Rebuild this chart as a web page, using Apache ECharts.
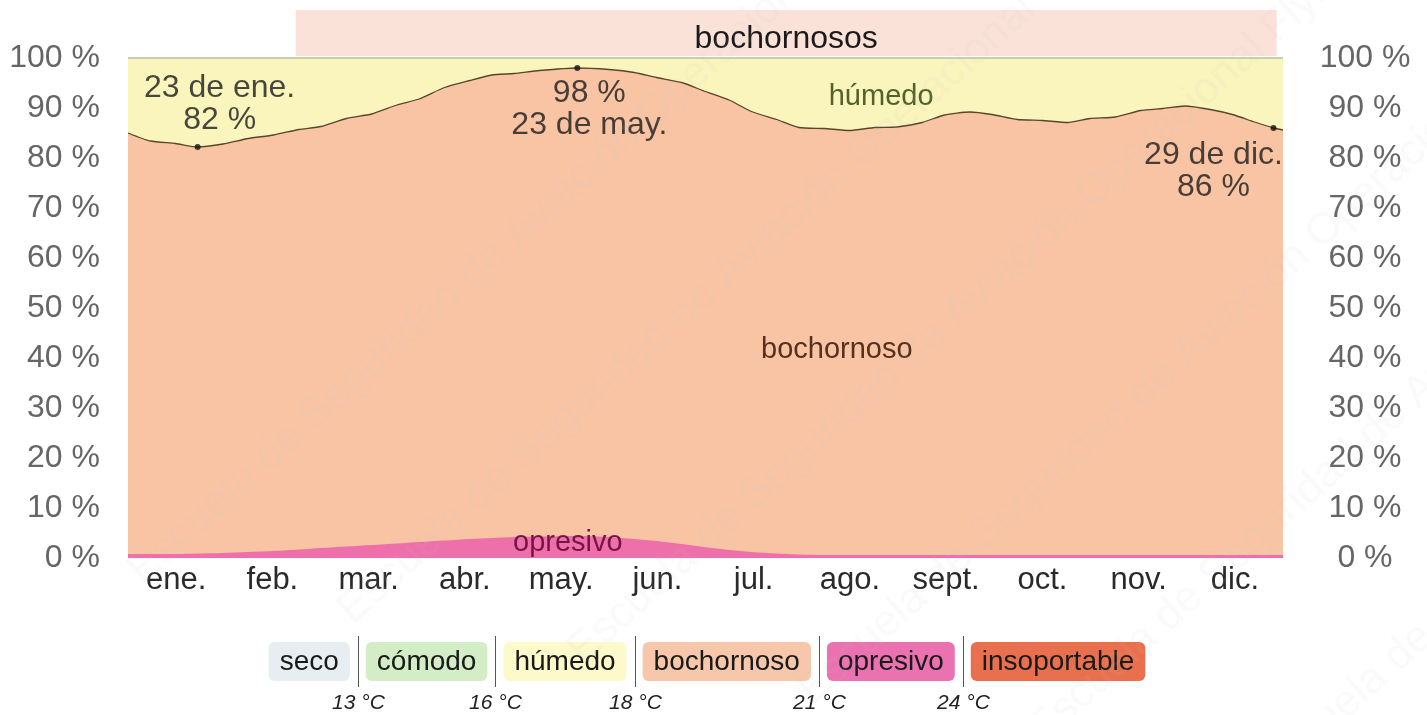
<!DOCTYPE html>
<html>
<head>
<meta charset="utf-8">
<script src="https://cdn.jsdelivr.net/npm/echarts@6/dist/echarts.min.js"></script>
<style>
  html, body { margin: 0; padding: 0; background: #fff; }
  #chart { width: 1427px; height: 715px; }
</style>
</head>
<body>
<div id="chart"></div>
<script>
// dia del año (0 = 1 de ene.)
const days = [0, 7, 15, 22, 30, 38, 46, 54, 61, 69, 77, 85, 92, 100, 108, 115, 122, 130, 142, 152,
  160, 167, 175, 182, 190, 197, 205, 212, 220, 228, 236, 243, 251, 258, 266, 273, 281, 289, 297,
  304, 312, 320, 327, 334, 342, 349, 356, 362, 365];
// % del tiempo bochornoso o peor (linea superior)
const humid = [85, 83.4, 82.9, 82.2, 82.8, 83.9, 84.6, 85.7, 86.3, 87.9, 88.8, 90.6, 91.8, 94.1, 95.5, 96.6, 96.9, 97.5, 98, 97.7,
  97.1, 96.1, 95.1, 93.4, 91.6, 89.3, 87.7, 86.1, 85.9, 85.5, 86.1, 86.2, 87.1, 88.6, 89.2, 88.7, 87.7, 87.5, 87.1,
  87.9, 88.2, 89.5, 89.9, 90.4, 89.7, 88.7, 87.2, 86, 85.6];
// % del tiempo opresivo
const oppressive = [0.8, 0.8, 0.8, 0.9, 1, 1.2, 1.4, 1.7, 2, 2.3, 2.6, 2.9, 3.2, 3.5, 3.8, 4, 4.2, 4.3, 4.4, 4.2,
  3.8, 3.4, 2.8, 2.2, 1.6, 1.2, 0.9, 0.7, 0.6, 0.6, 0.6, 0.6, 0.6, 0.6, 0.6, 0.6, 0.6, 0.6, 0.6,
  0.6, 0.6, 0.6, 0.6, 0.6, 0.6, 0.6, 0.6, 0.6, 0.6];

const months = ['ene.', 'feb.', 'mar.', 'abr.', 'may.', 'jun.', 'jul.', 'ago.', 'sept.', 'oct.', 'nov.', 'dic.'];

// anotaciones: dia, fecha
const noteDays = [22, 142, 362];
const noteDates = ['23 de ene.', '23 de may.', '29 de dic.'];

// banda superior
const bandStart = 53;
const bandEnd = 363;
const bandName = 'bochornosos';

// leyenda
const legendNames = ['seco', 'cómodo', 'húmedo', 'bochornoso', 'opresivo', 'insoportable'];
const legendColors = ['#e6eef1', '#d3edc6', '#fcf9cb', '#f6c7aa', '#ea72b1', '#e9704f'];
const tempLabels = ['13 °C', '16 °C', '18 °C', '21 °C', '24 °C'];

const FONT = '"Liberation Sans", Arial, Helvetica, sans-serif';

const chart = echarts.init(document.getElementById('chart'));

// puntos anotados, valores tomados de humid
const noteLayout = [
  { position: 'top', distance: 8, offset: [22, 0], order: 'dateFirst' },
  { position: 'bottom', distance: 6, offset: [12, 0], order: 'valueFirst' },
  { position: 'bottom', distance: 8, offset: [-60, 0], order: 'dateFirst' }
];
const notes = noteDays.map((d, i) => {
  const v = humid[days.indexOf(d)];
  const pct = Math.round(v) + ' %';
  const lay = noteLayout[i];
  return {
    value: [d, v],
    label: {
      show: true,
      position: lay.position,
      distance: lay.distance,
      offset: lay.offset,
      formatter: lay.order === 'dateFirst' ? noteDates[i] + '\n' + pct : pct + '\n' + noteDates[i]
    }
  };
});

// etiquetas de zona (posiciones en coordenadas del grafico)
const zoneLabels = [
  { name: 'húmedo', coord: [238, 92.2], color: '#53612a' },
  { name: 'bochornoso', coord: [224, 41.6], color: '#57301e' },
  { name: 'opresivo', coord: [139, 3], color: '#781444' }
];

// leyenda: medir el texto para el ancho de cada caja
const ctx = document.createElement('canvas').getContext('2d');
ctx.font = '28px ' + FONT;
const pad = 11, gap = 16, boxTop = 642, boxH = 39;
const widths = legendNames.map(n => ctx.measureText(n).width + pad * 2);
const total = widths.reduce((a, b) => a + b, 0) + gap * (legendNames.length - 1);
let cx = 707 - total / 2;
const legendGraphics = [];
legendNames.forEach((n, i) => {
  legendGraphics.push({
    type: 'rect', silent: true,
    shape: { x: cx, y: boxTop, width: widths[i], height: boxH, r: 6 },
    style: { fill: legendColors[i] }
  });
  legendGraphics.push({
    type: 'text', silent: true,
    style: { text: n, x: cx + widths[i] / 2, y: boxTop + boxH / 2 + 1, align: 'center', verticalAlign: 'middle',
      font: '28px ' + FONT, fill: '#1a1a1a' }
  });
  cx += widths[i];
  if (i < tempLabels.length) {
    const sx = Math.round(cx + gap / 2) + 0.5;
    legendGraphics.push({
      type: 'line', silent: true,
      shape: { x1: sx, y1: 636, x2: sx, y2: 687 },
      style: { stroke: '#555', lineWidth: 1 }
    });
    legendGraphics.push({
      type: 'text', silent: true,
      style: { text: tempLabels[i], x: sx, y: 703, align: 'center', verticalAlign: 'middle',
        font: 'italic 21px ' + FONT, fill: '#222' }
    });
  }
  cx += gap;
});

// marca de agua (muy tenue)
const wmText = 'Escuela de Seguridad de Aviación Operacional Flying - Dirección Operacional - Escuela de Seguridad';
const wmSpots = [[120, 560], [330, 600], [560, 640], [790, 680], [1020, 720], [1250, 760], [1450, 700], [1480, 420]];
const watermark = wmSpots.map(p => ({
  type: 'text', silent: true, z: 100,
  x: p[0], y: p[1], rotation: Math.PI / 4.3,
  style: { text: wmText, x: 0, y: 0, font: '44px ' + FONT, fill: 'rgba(200,200,200,0.09)' }
}));

chart.setOption({
  animation: false,
  backgroundColor: '#fff',
  textStyle: { fontFamily: FONT },
  grid: [
    { left: 128, right: 144, top: 58, bottom: 157 },
    { left: 128, right: 144, top: 10, height: 46 }
  ],
  xAxis: [
    { type: 'value', gridIndex: 0, min: 0, max: 365, show: false },
    {
      type: 'category', gridIndex: 0, data: months, boundaryGap: true, position: 'bottom',
      axisLine: { show: false }, axisTick: { show: false }, splitLine: { show: false },
      axisLabel: { fontSize: 31, color: '#2a2a2a', margin: 7, fontFamily: FONT }
    },
    { type: 'value', gridIndex: 1, min: 0, max: 365, show: false }
  ],
  yAxis: [
    {
      type: 'value', gridIndex: 0, min: 0, max: 100, interval: 10,
      axisLine: { show: false }, axisTick: { show: false },
      axisLabel: { formatter: '{value} %', fontSize: 32, color: '#666', margin: 28, fontFamily: FONT },
      splitLine: { show: true, lineStyle: { color: 'rgba(120,60,30,0.05)', width: 1 } }
    },
    {
      type: 'value', gridIndex: 0, position: 'right', min: 0, max: 100, interval: 10,
      axisLine: { show: false }, axisTick: { show: false }, splitLine: { show: false },
      axisLabel: { formatter: '{value} %', fontSize: 32, color: '#666', margin: 82, align: 'center', fontFamily: FONT }
    },
    { type: 'value', gridIndex: 1, min: 0, max: 1, show: false }
  ],
  series: [
    {
      name: 'húmedo', type: 'line', xAxisIndex: 0, yAxisIndex: 0,
      data: days.map(d => [d, 100]),
      showSymbol: false, lineStyle: { width: 0 },
      areaStyle: { color: '#faf5bd', opacity: 1 },
      markLine: {
        silent: true, symbol: 'none', label: { show: false },
        lineStyle: { color: '#c9cdb1', width: 2, type: 'solid' },
        data: [{ yAxis: 100 }]
      }
    },
    {
      name: 'bochornoso', type: 'line', xAxisIndex: 0, yAxisIndex: 0,
      data: days.map((d, i) => [d, humid[i]]),
      showSymbol: false, smooth: 0.2,
      lineStyle: { color: '#574628', width: 1.3 },
      areaStyle: { color: '#f8c4a4', opacity: 1 },
      markPoint: {
        silent: true, symbol: 'circle', symbolSize: 1,
        itemStyle: { color: 'rgba(0,0,0,0)' },
        data: zoneLabels.map(z => ({
          coord: z.coord, name: z.name,
          label: { show: true, position: 'inside', formatter: z.name, fontSize: 29, color: z.color, fontFamily: FONT }
        }))
      },
      z: 3
    },
    {
      name: 'opresivo', type: 'line', xAxisIndex: 0, yAxisIndex: 0,
      data: days.map((d, i) => [d, oppressive[i]]),
      showSymbol: false, smooth: 0.3,
      lineStyle: { width: 0 },
      areaStyle: { color: '#ee70aa', opacity: 1 },
      z: 4
    },
    {
      name: 'notas', type: 'scatter', xAxisIndex: 0, yAxisIndex: 0,
      symbolSize: 6, itemStyle: { color: '#111' },
      label: { fontSize: 32, lineHeight: 32, color: '#1a1a1a', align: 'center', fontFamily: FONT },
      data: notes, z: 10
    },
    {
      name: 'banda', type: 'line', xAxisIndex: 2, yAxisIndex: 2,
      data: [[bandStart, 0.5], [bandEnd, 0.5]],
      showSymbol: false, lineStyle: { width: 0 },
      markArea: {
        silent: true,
        itemStyle: { color: '#fbe2d8' },
        label: { show: true, position: 'inside', offset: [0, 6], fontSize: 32, color: '#1a1a1a', fontFamily: FONT },
        data: [[{ xAxis: bandStart, name: bandName }, { xAxis: bandEnd }]]
      }
    }
  ],
  graphic: legendGraphics.concat(watermark)
});
</script>
</body>
</html>
